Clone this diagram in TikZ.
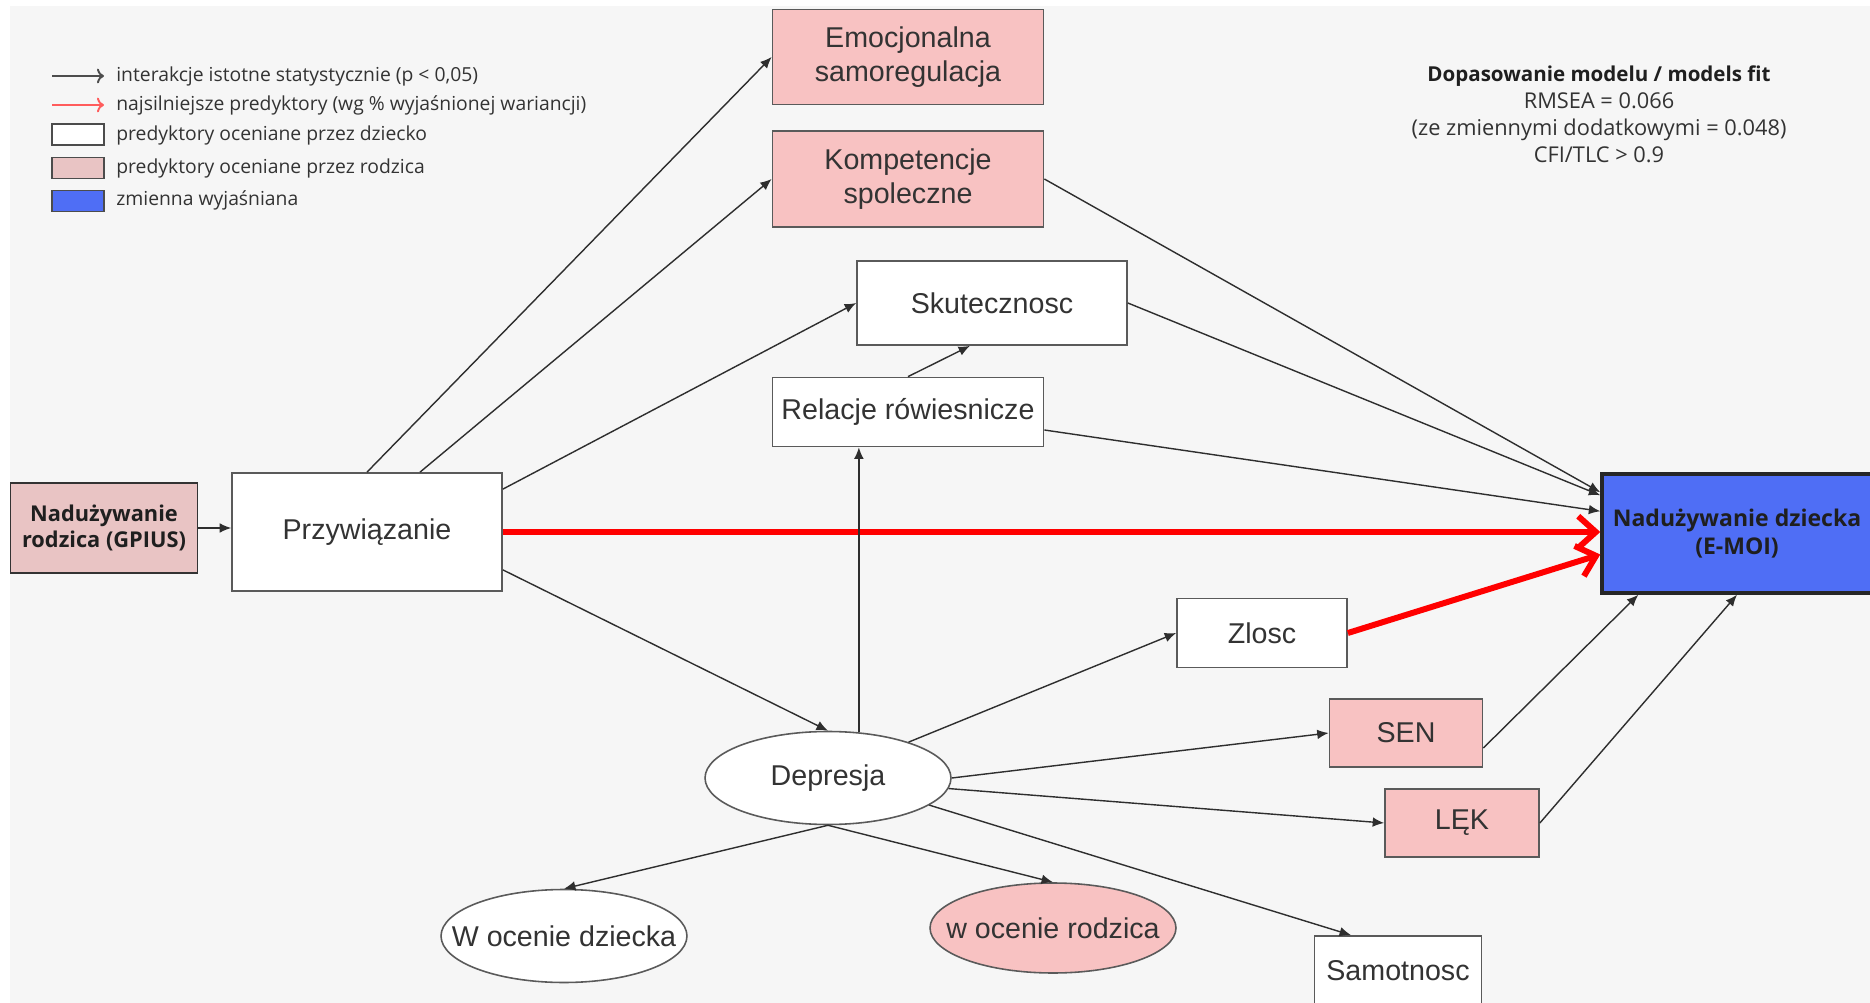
\documentclass[tikz,border=0pt]{standalone}
\usepackage{fontspec}
\setmainfont{Liberation Sans}
\newfontfamily\legendfont{Open Sans}
\usetikzlibrary{arrows.meta,shapes.geometric,positioning,calc}
\definecolor{bgpanel}{HTML}{F6F6F6}
\definecolor{boxline}{HTML}{5A5A5A}
\definecolor{linkgray}{HTML}{2E2E2E}
\definecolor{pinkfill}{HTML}{F8C2C2}
\definecolor{pinkdark}{HTML}{E9C4C4}
\definecolor{emoiblue}{HTML}{4F6EF5}
\definecolor{textgray}{HTML}{333333}
\definecolor{legendred}{HTML}{FF5C5C}

\begin{document}
\begin{tikzpicture}[x=0.02cm, y=-0.02cm,
  every node/.style={font=\fontsize{16.3}{19.3}\selectfont, text=textgray},
  varbox/.style={draw=boxline, fill=white, line width=1pt, inner sep=0pt, align=center},
  pinkbox/.style={varbox, fill=pinkfill},
  varoval/.style={ellipse, draw=boxline, fill=white, line width=0.9pt, inner sep=0pt,
    minimum width=4.92cm, minimum height=1.86cm},
  boldtext/.style={font=\legendfont\bfseries\fontsize{12.4}{14.5}\selectfont, text=black!88},
  link/.style={draw=linkgray, line width=0.8pt, -{Latex[length=6.5pt,width=5.5pt]}},
  strong/.style={draw=red, line width=3.4pt, -{Straight Barb[length=10pt,width=18pt]}},
  legtext/.style={font=\legendfont\fontsize{11}{13}\selectfont, anchor=west, inner sep=0pt, text=textgray},
  legbox/.style={draw=black!70, line width=1pt, minimum width=1.04cm, minimum height=0.42cm, inner sep=0pt}]
  \useasboundingbox (0,0) rectangle (1870,1003);
  % Background
  \fill[white] (0,0) rectangle (1870,1003);
  \fill[bgpanel] (10,6) rectangle (1870,1003);

  % Legend
  \coordinate (lgstart) at (52,76);
  \coordinate (lgend) at (104,76);
  \coordinate (lrstart) at (52,105);
  \coordinate (lrend) at (104,105);
  \draw[linkgray!85, line width=1.1pt, -{To[length=4pt]}] (lgstart) -- (lgend);
  \draw[legendred, line width=1.1pt, -{To[length=4pt]}] (lrstart) -- (lrend);
  \node[legtext] (lgtxt) at (116,76) {interakcje istotne statystycznie (p < 0,05)};
  \node[legtext] (lrtxt) at (116,105) {najsilniejsze predyktory (wg \% wyjaśnionej wariancji)};
  \node[legbox, fill=white] (lwhite) at (78,134.5) {};
  \node[legtext] (lwtxt) at (116,135) {predyktory oceniane przez dziecko};
  \node[legbox, fill=pinkdark] (lpink) at (78,168) {};
  \node[legtext] (lptxt) at (116,168) {predyktory oceniane przez rodzica};
  \node[legbox, fill=emoiblue] (lblue) at (78,201) {};
  \node[legtext] (lbtxt) at (116,200) {zmienna wyjaśniana};

  % Model fit
  \node[font=\legendfont\fontsize{12.4}{15.4}\selectfont, align=center, text=textgray] (fit) at (1599,114)
    {{\bfseries\fontsize{11.7}{15.4}\selectfont\color{black!88}Dopasowanie modelu / models fit}\\RMSEA = 0.066\\
     (ze zmiennymi dodatkowymi = 0.048)\\CFI/TLC > 0.9};

  % Variables
  \node[pinkbox, minimum width=5.42cm, minimum height=1.9cm] (emoc) at (908,57) {Emocjonalna\\samoregulacja};
  \node[pinkbox, minimum width=5.42cm, minimum height=1.92cm] (kompet) at (908,179) {Kompetencje\\spoleczne};
  \node[varbox, minimum width=5.4cm, minimum height=1.68cm] (skut) at (992,303) {Skutecznosc};
  \node[varbox, minimum width=5.42cm, minimum height=1.38cm] (relac) at (908,412) {Relacje rówiesnicze};
  \node[varbox, minimum width=5.4cm, minimum height=2.36cm] (przyw) at (367,532) {Przywiązanie};
  \node[varbox, boldtext, fill=pinkdark, draw=black!80, minimum width=3.74cm, minimum height=1.8cm]
    (gpius) at (104,528) {Nadużywanie\\rodzica (GPIUS)};
  \node[varbox, boldtext, font=\legendfont\bfseries\fontsize{13.1}{16}\selectfont, fill=emoiblue,
    draw=black!85, line width=2pt, minimum width=5.4cm, minimum height=2.38cm]
    (emoi) at (1737,533.5) {Nadużywanie dziecka\\(E-MOI)};
  \node[varbox, minimum width=3.4cm, minimum height=1.38cm] (zlosc) at (1262,633) {Zlosc};
  \node[pinkbox, minimum width=3.06cm, minimum height=1.36cm] (sen) at (1406,733) {SEN};
  \node[pinkbox, minimum width=3.08cm, minimum height=1.36cm] (lek) at (1462,823) {LĘK};
  \node[varbox, minimum width=3.34cm, minimum height=1.38cm] (samot) at (1398,970.5) {Samotnosc};
  \node[varoval] (depr) at (828,778) {\makebox[0pt]{Depresja}};
  \node[varoval] (dziecko) at (564,936) {\makebox[0pt]{W ocenie dziecka}};
  \node[varoval, fill=pinkfill, minimum height=1.8cm] (rodz) at (1053,928) {\makebox[0pt]{w ocenie rodzica}};

  % From Przywiązanie
  \draw[link] (gpius.east) -- (gpius.east -| przyw.west);
  \draw[link] (przyw.north) -- (emoc.west);
  \draw[link] ($(przyw.north)+(53,0)$) -- (kompet.west);
  \draw[link] ($(przyw.north east)+(0,17)$) -- (skut.west);
  \draw[link] ($(przyw.south east)+(0,-22)$) -- (depr.north);
  \draw[strong] (przyw.east) -- (przyw.east -| emoi.west);

  % From Depresja
  \draw[link] (depr.56) -- (depr.56 |- relac.south);
  \draw[link] (relac.north) -- ($(skut.south)+(-22,0)$);
  \draw[link] (depr.24) -- (zlosc.west);
  \draw[link] (depr.east) -- (sen.west);
  \draw[link] (depr.-5) -- (lek.west);
  \draw[link] (depr.-15) -- ($(samot.north)+(-47,0)$);
  \draw[link] (depr.south) -- (dziecko.north);
  \draw[link] (depr.south) -- (rodz.north);

  % Into E-MOI
  \draw[link] (kompet.east) -- ($(emoi.north west)+(0,20)$);
  \draw[link] (skut.east) -- ($(emoi.north west)+(0,23)$);
  \draw[link] ($(relac.east)+(0,18)$) -- ($(emoi.north west)+(0,39)$);
  \draw[strong] (zlosc.east) -- ($(emoi.west)+(0,21)$);
  \draw[link] ($(sen.east)+(0,15)$) -- ($(emoi.south west)+(38,0)$);
  \draw[link] (lek.east) -- (emoi.south);
\end{tikzpicture}
\end{document}
